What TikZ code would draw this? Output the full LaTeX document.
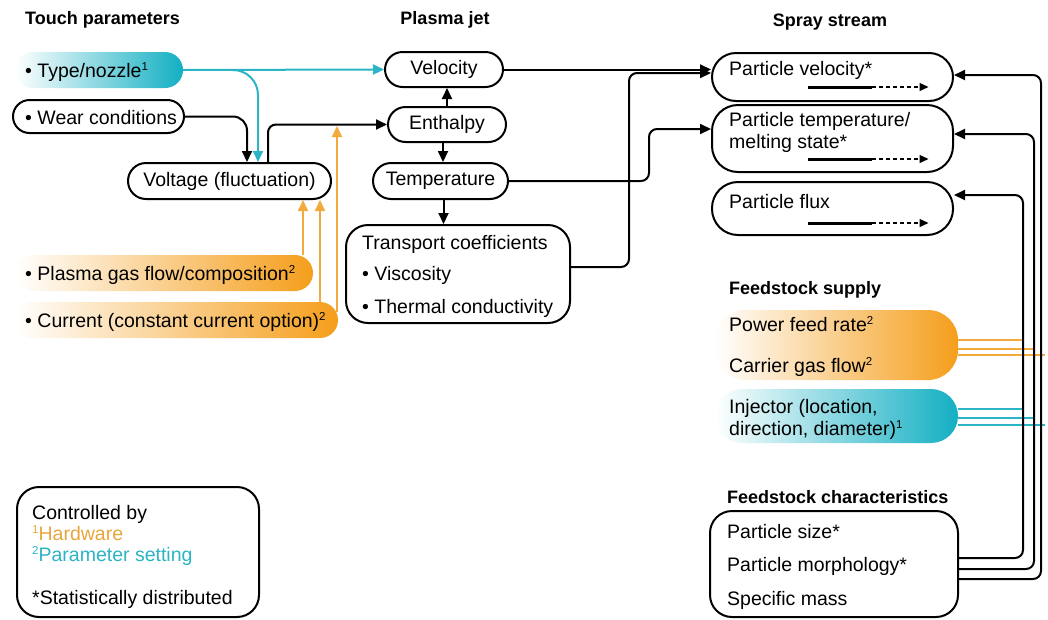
\documentclass[tikz,border=0pt]{standalone}
\usepackage{fontspec}
\setmainfont{Liberation Sans}
\usetikzlibrary{arrows.meta,calc}
\definecolor{cyanC}{RGB}{19,175,195}
\definecolor{orangeC}{RGB}{245,158,27}
\definecolor{cyanL}{RGB}{43,180,198}
\definecolor{orangeL}{RGB}{242,170,60}
\definecolor{hwC}{RGB}{232,165,60}
\definecolor{psC}{RGB}{43,180,196}
\newcommand\supnum[1]{\raisebox{6.5pt}{\fontsize{11.5}{12}\selectfont #1}}
\begin{document}
\begin{tikzpicture}[x=1pt,y=-1pt,
  every node/.style={font=\fontsize{19.5}{22}\selectfont},
  box/.style={draw=black, line width=2pt, inner sep=0pt},
  cfill/.style={left color=white, right color=cyanC, draw=none, inner sep=0pt},
  ofill/.style={left color=white, right color=orangeC, draw=none, inner sep=0pt},
  tx/.style={anchor=base west, inner sep=0pt},
  ttl/.style={font=\fontsize{18}{21}\selectfont\bfseries, inner sep=0pt},
  tip/.style={-{Triangle[length=11pt,width=10pt]}},
  blk/.style={line width=2pt, draw=black},
  cy/.style={line width=2pt, draw=cyanL},
  orl/.style={line width=2pt, draw=orangeL},
  solidbar/.style={line width=3pt, draw=black},
  dashbar/.style={line width=1.4pt, draw=black, dash pattern=on 4pt off 3pt, -{Triangle[length=9pt,width=8pt]}}
]
\useasboundingbox (0,0) rectangle (1048,619);

% titles
\node[ttl, anchor=west] (t1) at (25,20) {Touch parameters};
\node[ttl] (t2) at (445,20) {Plasma jet};
\node[ttl] (t3) at (830,22) {Spray stream};
\node[ttl, anchor=west] (t4) at (729,290) {Feedstock supply};
\node[ttl, anchor=west] (t5) at (727,497) {Feedstock characteristics};

% left column
\node[cfill, rounded corners=18, minimum width=168, minimum height=36] (tn) at (99,70) {};
\node[tx] (tnt) at (25,77) {• Type/nozzle\supnum{1}};
\node[box, rounded corners=16.5, minimum width=171, minimum height=33] (wc) at (98.5,116.5) {};
\node[tx] (wct) at (25,124) {• Wear conditions};
\node[box, rounded corners=18, minimum width=203, minimum height=36] (vf) at (229.5,181) {Voltage (fluctuation)};
\node[ofill, rounded corners=18, minimum width=298, minimum height=36] (pg) at (164,273) {};
\node[tx] (pgt) at (25,280) {• Plasma gas flow/composition\supnum{2}};
\node[ofill, rounded corners=18, minimum width=323, minimum height=36] (cu) at (176.5,320) {};
\node[tx] (cut) at (25,327) {• Current (constant current option)\supnum{2}};

% plasma jet
\node[box, rounded corners=17.5, minimum width=118, minimum height=35] (vel) at (444,69.5) {Velocity};
\node[box, rounded corners=17.5, minimum width=118, minimum height=35] (en) at (447,124.5) {Enthalpy};
\node[box, rounded corners=18, minimum width=135, minimum height=36] (te) at (440.5,181) {Temperature};
\node[box, rounded corners=22, minimum width=224, minimum height=98] (tc) at (458,274) {};
\node[tx] (tc1) at (362,249) {Transport coefficients};
\node[tx] (tc2) at (362,280) {• Viscosity};
\node[tx] (tc3) at (362,313) {• Thermal conductivity};

% spray stream
\node[box, rounded corners=24, minimum width=241, minimum height=48] (pv) at (832.5,77) {};
\node[tx] (pvt) at (729,75) {Particle velocity*};
\node[box, rounded corners=26, minimum width=241, minimum height=67] (pt) at (832.5,138.5) {};
\node[tx] (pt1) at (729,126) {Particle temperature/};
\node[tx] (pt2) at (729,148) {melting state*};
\node[box, rounded corners=26, minimum width=241, minimum height=53] (pf) at (832.5,208.5) {};
\node[tx] (pft) at (729,208) {Particle flux};

\draw[solidbar] ($(pv.center)+(-24.5,10)$) -- ($(pv.center)+(39.5,10)$);
\draw[dashbar] ($(pv.center)+(39.5,10)$) -- ($(pv.center)+(96,10)$);
\draw[solidbar] ($(pt.center)+(-24.5,20.5)$) -- ($(pt.center)+(39.5,20.5)$);
\draw[dashbar] ($(pt.center)+(39.5,20.5)$) -- ($(pt.center)+(96,20.5)$);
\draw[solidbar] ($(pf.center)+(-24.5,14.5)$) -- ($(pf.center)+(39.5,14.5)$);
\draw[dashbar] ($(pf.center)+(39.5,14.5)$) -- ($(pf.center)+(96,14.5)$);

% feedstock supply
\node[ofill, rounded corners=30, minimum width=243, minimum height=70] (fs) at (836.5,345) {};
\node[tx] (fs1) at (729,331) {Power feed rate\supnum{2}};
\node[tx] (fs2) at (729,372) {Carrier gas flow\supnum{2}};
\node[cfill, rounded corners=27, minimum width=243, minimum height=54] (inj) at (836.5,416) {};
\node[tx] (in1) at (729,413) {Injector (location,};
\node[tx] (in2) at (729,435) {direction, diameter)\supnum{1}};

% feedstock characteristics
\node[box, rounded corners=22, minimum width=248, minimum height=106] (fc) at (834,564) {};
\node[tx] (fc1) at (727,538) {Particle size*};
\node[tx] (fc2) at (727,571) {Particle morphology*};
\node[tx] (fc3) at (727,605) {Specific mass};

% legend
\node[box, rounded corners=22, minimum width=242, minimum height=130] (lg) at (138,552) {};
\node[tx] (lg1) at (32,519) {Controlled by};
\node[tx] (lg2) at (32,540) {\color{hwC}\supnum{1}Hardware};
\node[tx] (lg3) at (32,561) {\color{psC}\supnum{2}Parameter setting};
\node[tx] (lg4) at (32,604) {*Statistically distributed};

% connectors: cyan
\coordinate (tb) at (232,70);
\draw[cy, tip] (tn.east) -- (vel.west);
\draw[cy, tip, rounded corners=25] (tb) -| ([xshift=28.5pt]vf.north);
% wear -> voltage
\draw[blk, tip, rounded corners=14] (wc.east) -| ([xshift=17.5pt]vf.north);
% voltage -> enthalpy
\draw[blk, tip, rounded corners=8] ([xshift=38.5pt]vf.north) |- (en.west);
% orange to voltage
\coordinate (ej) at (337,126);
\draw[orl, tip] ([xshift=139pt]pg.north) -- ([xshift=73.5pt]vf.south);
\draw[orl, tip] ([xshift=143.5pt]cu.north) -- ([xshift=90.5pt]vf.south);
\draw[orl, tip] ([xshift=160.5pt,yshift=-10pt]cu.north) -- (ej);
% plasma jet internal
\draw[blk, tip] (en.north) -- (en.north |- vel.south);
\draw[blk, tip] ([xshift=-4pt]en.south) -- ([xshift=-4pt]en.south |- te.north);
\draw[blk, tip] ([xshift=3pt]te.south) -- ([xshift=3pt]te.south |- tc.north);
% to spray stream
\draw[blk, tip] (vel.east) -- (vel.east -| pv.west);
\draw[blk, tip, rounded corners=8] ([yshift=7pt]tc.east) -- ++(58,0) |- ([yshift=4pt]pv.west);
\draw[blk, tip, rounded corners=8] (te.east) -- ++(140,0) |- ([yshift=9.5pt]pt.west);

% feedstock supply lines
\draw[orl] ([yshift=5pt]fs.east) -- ++(64,0);
\draw[orl] ([yshift=-4pt]fs.east) -- ++(75,0);
\draw[orl] ([yshift=-10pt]fs.east) -- ++(87,0);
\draw[cy] ([yshift=7pt]inj.east) -- ++(64,0);
\draw[cy] ([yshift=-2pt]inj.east) -- ++(75,0);
\draw[cy] ([yshift=-9pt]inj.east) -- ++(87,0);

% feedstock characteristics -> spray stream
\draw[blk, tip, rounded corners=8] ([yshift=6pt]fc.east) -- ++(64,0) |- ([yshift=13.5pt]pf.east);
\draw[blk, tip, rounded corners=8] ([yshift=-5pt]fc.east) -- ++(75,0) |- ([yshift=4.5pt]pt.east);
\draw[blk, tip, rounded corners=8] ([yshift=-15pt]fc.east) -- ++(82,0) |- ([yshift=2pt]pv.east);
\end{tikzpicture}
\end{document}
